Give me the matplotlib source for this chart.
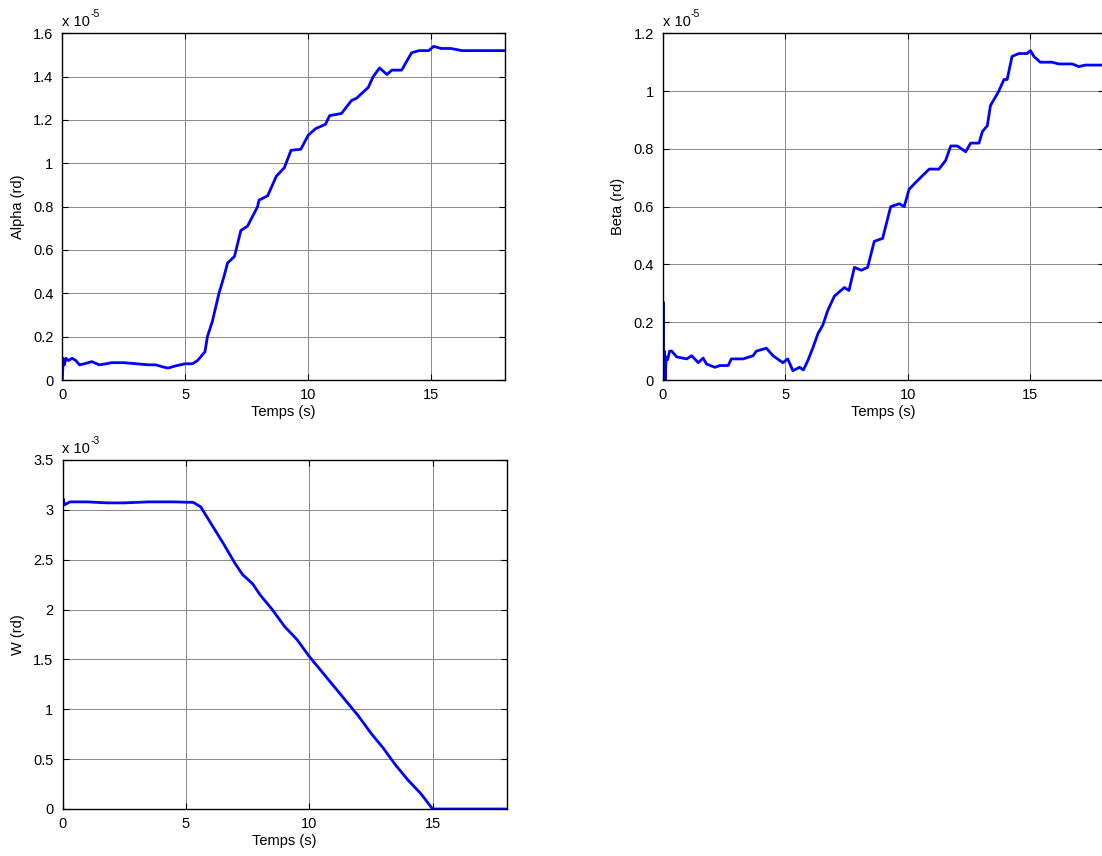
import matplotlib
matplotlib.use("Agg")
import matplotlib.pyplot as plt
import numpy as np

plt.rcParams['font.family'] = ['Liberation Sans', 'DejaVu Sans']

# Alpha (x 1e-5 rd)
t_alpha = [0, 0.04, 0.08, 0.15, 0.25, 0.4, 0.55, 0.7, 0.9, 1.2, 1.5, 1.8, 2.0, 2.5, 3.0, 3.5,
           3.8, 4.1, 4.3, 4.6, 5.0, 5.3, 5.5, 5.8, 5.9, 6.1, 6.37, 6.58, 6.72, 7.0, 7.26, 7.53,
           7.94, 8.0, 8.35, 8.7, 9.03, 9.3, 9.7, 10.0, 10.3, 10.7, 10.87, 11.35, 11.76, 11.96,
           12.44, 12.64, 12.9, 13.2, 13.4, 13.8, 14.2, 14.5, 14.9, 15.1, 15.4, 15.8, 16.25,
           16.8, 17.4, 18.0]
alpha = [0, 0.1, 0.07, 0.1, 0.09, 0.1, 0.09, 0.07, 0.075, 0.085, 0.07, 0.075, 0.08, 0.08, 0.075,
         0.07, 0.07, 0.06, 0.055, 0.065, 0.075, 0.075, 0.09, 0.13, 0.2, 0.27, 0.4, 0.48, 0.54,
         0.57, 0.69, 0.71, 0.8, 0.83, 0.85, 0.94, 0.98, 1.06, 1.065, 1.13, 1.16, 1.18, 1.22,
         1.23, 1.29, 1.30, 1.35, 1.40, 1.44, 1.41, 1.43, 1.43, 1.51, 1.52, 1.52, 1.54, 1.53,
         1.53, 1.52, 1.52, 1.52, 1.52]

# Beta (x 1e-5 rd)
t_beta = [0, 0.02, 0.04, 0.07, 0.1, 0.14, 0.2, 0.28, 0.37, 0.57, 0.98, 1.18, 1.45, 1.65, 1.79,
          2.13, 2.33, 2.67, 2.8, 3.28, 3.69, 3.82, 4.23, 4.5, 4.9, 5.1, 5.31, 5.58, 5.74, 5.92,
          6.12, 6.33, 6.53, 6.73, 7.0, 7.41, 7.6, 7.82, 8.1, 8.36, 8.63, 8.97, 9.3, 9.65, 9.85,
          10.05, 10.39, 10.87, 11.27, 11.54, 11.75, 12.02, 12.36, 12.56, 12.9, 13.04, 13.24,
          13.37, 13.71, 13.92, 14.05, 14.25, 14.53, 14.86, 15.0, 15.14, 15.4, 15.88, 16.15,
          16.7, 16.97, 17.24, 17.85, 18.0]
beta = [0, 0.27, 0.0, 0.1, 0.0, 0.08, 0.07, 0.1, 0.1, 0.08, 0.073, 0.084, 0.06, 0.076, 0.055,
        0.044, 0.05, 0.05, 0.073, 0.073, 0.084, 0.1, 0.11, 0.084, 0.06, 0.073, 0.032, 0.044,
        0.035, 0.067, 0.11, 0.16, 0.19, 0.24, 0.29, 0.32, 0.31, 0.39, 0.38, 0.39, 0.48, 0.49,
        0.60, 0.61, 0.60, 0.66, 0.69, 0.73, 0.73, 0.76, 0.81, 0.81, 0.79, 0.82, 0.82, 0.86,
        0.88, 0.95, 1.0, 1.04, 1.04, 1.12, 1.13, 1.13, 1.14, 1.12, 1.10, 1.10, 1.094, 1.094,
        1.085, 1.09, 1.09, 1.09]

# W (x 1e-3 rd)
t_w = [0, 0.03, 0.08, 0.3, 1.0, 1.8, 2.5, 3.5, 4.5, 5.3, 5.6, 6.0, 6.5, 7.0, 7.3, 7.7, 8.0,
       8.5, 9.0, 9.5, 10.0, 10.5, 11.0, 11.5, 12.0, 12.5, 13.0, 13.5, 14.0, 14.5, 15.0, 18.0]
w = [3.07, 3.11, 3.05, 3.08, 3.08, 3.07, 3.07, 3.08, 3.08, 3.075, 3.03, 2.87, 2.67, 2.46, 2.35,
     2.26, 2.15, 2.0, 1.83, 1.7, 1.53, 1.38, 1.23, 1.08, 0.93, 0.76, 0.61, 0.44, 0.29, 0.16,
     0.0, 0.0]

W, H = 1102, 856
fig = plt.figure(figsize=(W / 100, H / 100), dpi=100)

panels = [
    ([62.3, 33.3, 505.0, 380.0], t_alpha, alpha, 'Alpha (rd)', '-5', np.arange(0, 1.61, 0.2), 1.6),
    ([662.7, 33.3, 1104.0, 380.0], t_beta, beta, 'Beta (rd)', '-5', np.arange(0, 1.21, 0.2), 1.2),
    ([62.5, 460.0, 506.7, 809.0], t_w, w, 'W (rd)', '-3', np.arange(0, 3.51, 0.5), 3.5),
]

for (x0, y0, x1, y1), tx, vals, lab, expo, yt, ymax in panels:
    ax = fig.add_axes([x0 / W, 1 - y1 / H, (x1 - x0) / W, (y1 - y0) / H])
    ax.plot(tx, vals, color='#0000ff', lw=2)
    ax.set_xlim(0, 18)
    ax.set_ylim(0, ymax)
    ax.set_xticks([0, 5, 10, 15])
    ax.set_yticks(yt)
    ax.set_yticklabels(['%g' % round(v, 2) for v in yt])
    ax.grid(True, color='#888888', lw=0.7)
    ax.tick_params(direction='in', top=True, right=True, length=4, labelsize=10.5)
    ax.tick_params(axis='y', pad=6.5)
    ax.tick_params(axis='x', pad=6)
    for s in ax.spines.values():
        s.set_linewidth(1.0)
    ax.set_xlabel('Temps (s)', fontsize=10.5, labelpad=2)
    ax.set_ylabel(lab, fontsize=10.5, labelpad=6)
    # MATLAB-style exponent label above the axes
    ax.text(0.0, 1.012, 'x 10', transform=ax.transAxes,
            ha='left', va='bottom', fontsize=10.5)
    ax.annotate(expo, xy=(0.0, 1.0), xycoords='axes fraction', xytext=(28, 14),
                textcoords='offset pixels', ha='left', va='bottom', fontsize=7.5)

fig.savefig('out.png', dpi=100)
